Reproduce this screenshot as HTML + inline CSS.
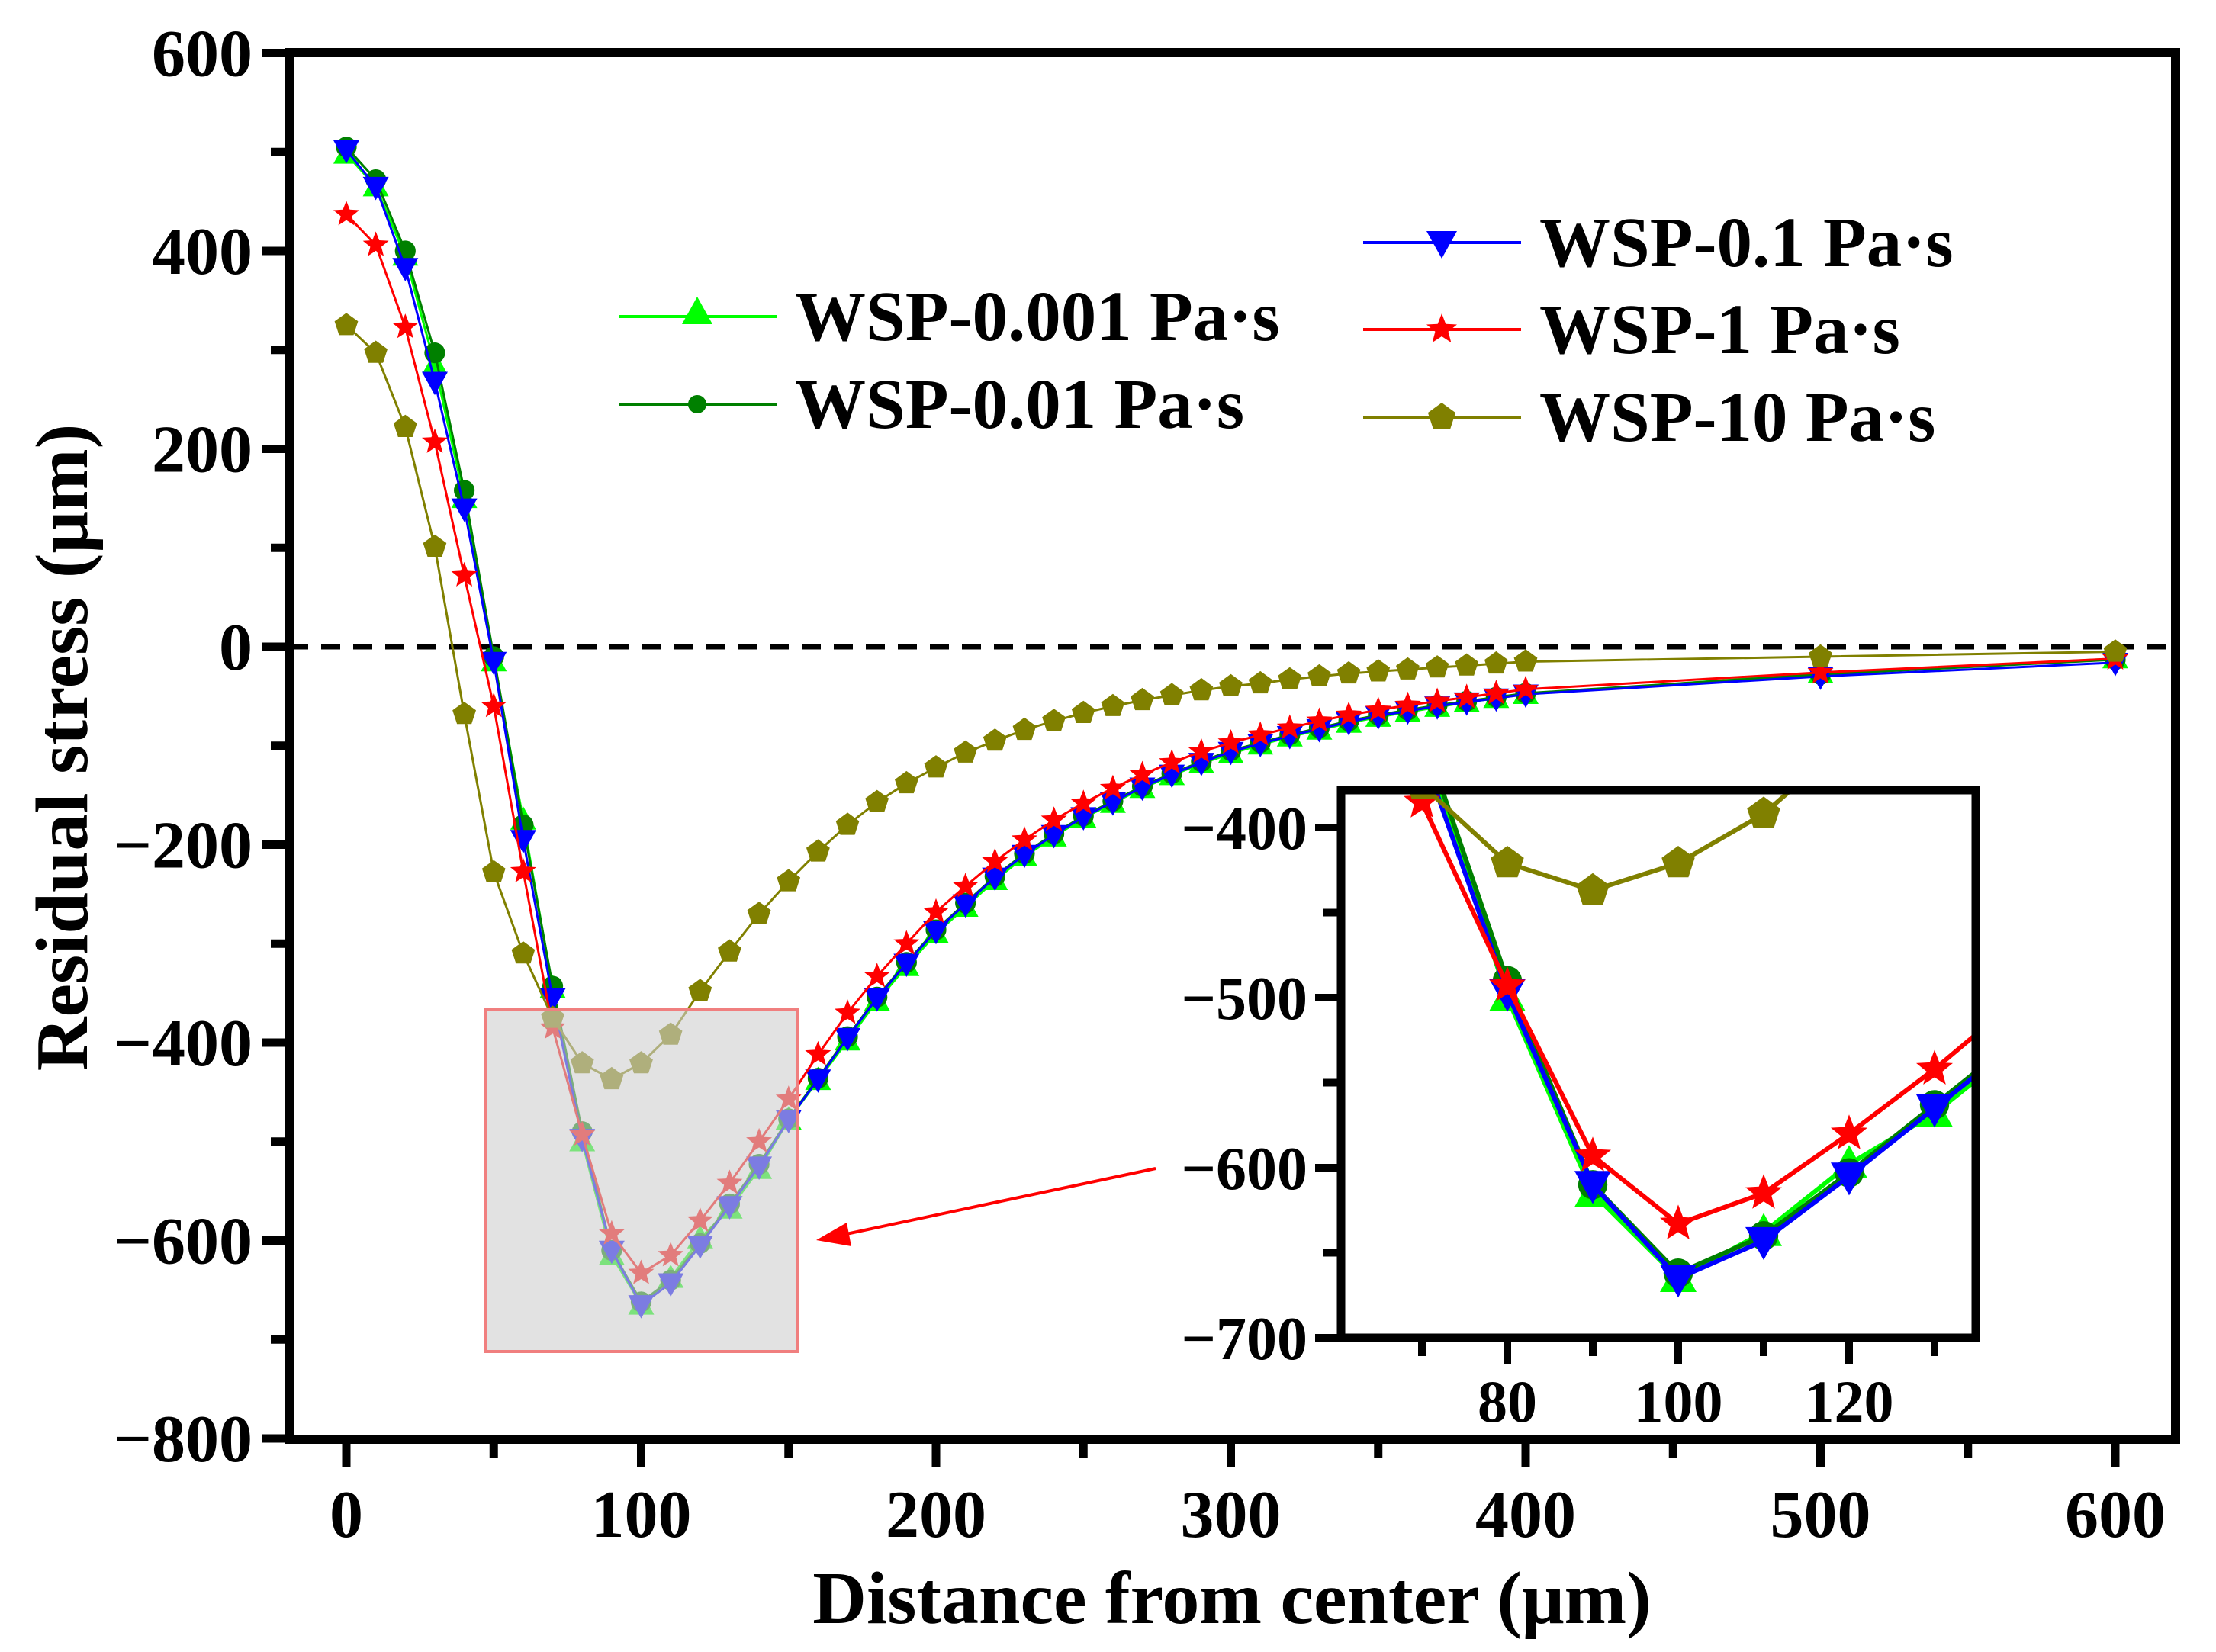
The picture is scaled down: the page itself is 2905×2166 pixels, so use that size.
<!DOCTYPE html>
<html><head><meta charset="utf-8"><style>
html,body{margin:0;padding:0;background:#fff;}
svg{display:block;font-family:"Liberation Serif",serif;font-weight:bold;}
</style></head><body>
<svg id="chart" xmlns="http://www.w3.org/2000/svg" width="2905" height="2166" viewBox="0 0 2905 2166">
<rect width="2905" height="2166" fill="#fff"/>
<g id="main-data"></g>
<g id="main-axes"></g>
<g id="inset"></g>
<g id="legend"></g>
</svg>
<script>
const xs = [0,10,20,30,40,50,60,70,80,90,100,110,120,130,140,150,160,170,180,190,200,210,220,230,240,250,260,270,280,290,300,310,320,330,340,350,360,370,380,390,400,500,600];
const s001 = [498,465,395,285,150,-15,-175,-345,-500,-615,-665,-638,-598,-568,-528,-478,-438,-398,-358,-323,-290,-263,-236,-212,-192,-173,-158,-143,-130,-118,-108,-99,-91,-84,-77,-71,-66,-61,-56,-52,-48,-27,-12];
const s01 = [505,472,400,297,158,-10,-180,-343,-490,-610,-662,-640,-603,-563,-523,-477,-436,-394,-354,-319,-286,-259,-232,-209,-189,-171,-156,-141,-128,-116,-105,-97,-89,-82,-75,-69,-64,-59,-55,-51,-47,-28,-13];
const s1 = [502,465,383,268,140,-15,-195,-355,-497,-610,-665,-643,-605,-565,-525,-478,-437,-395,-355,-320,-287,-260,-233,-210,-190,-172,-157,-142,-129,-117,-106,-98,-90,-83,-76,-70,-65,-60,-56,-52,-48,-30,-16];
const s10 = [437,406,323,207,72,-60,-227,-385,-493,-593,-633,-615,-580,-542,-500,-457,-412,-370,-333,-300,-268,-242,-217,-195,-175,-158,-143,-129,-117,-106,-97,-89,-82,-75,-69,-64,-59,-55,-51,-47,-43,-26,-12];
const s100 = [325,297,222,101,-68,-228,-310,-375,-421,-437,-421,-392,-348,-308,-270,-237,-207,-180,-157,-138,-122,-107,-95,-84,-75,-67,-60,-54,-49,-44,-40,-37,-33,-30,-27,-25,-23,-21,-19,-17,-15,-10,-5];
const seriesNames = ["WSP-0.001 Pa·s","WSP-0.01 Pa·s","WSP-0.1 Pa·s","WSP-1 Pa·s","WSP-10 Pa·s"];
const xTicks = [0,100,200,300,400,500,600];
const yTicks = [600,400,200,0,-200,-400,-600,-800];
const insetXTicks = [80,100,120];
const insetYTicks = [-400,-500,-600,-700];

const NS="http://www.w3.org/2000/svg";
function mk(tag,attrs,parent){const e=document.createElementNS(NS,tag);for(const k in attrs)e.setAttribute(k,attrs[k]);if(parent)parent.appendChild(e);return e;}

const L=379,T=69,R=2852,B=1887;
const X=v=>454+(v)*3.865;
const Y=v=>848-v*1.2975;
const IL=1758,IT=1036,IR=2590,IB=1754;
const IX=v=>2200+(v-100)*11.2;
const IY=v=>1754-(v+700)*2.23;

const styles=[
 {c:"#00ff00",m:"tri"},
 {c:"#008000",m:"circ"},
 {c:"#0000ff",m:"tridown"},
 {c:"#ff0000",m:"star"},
 {c:"#808000",m:"pent"}
];
const data=[s001,s01,s1,s10,s100];

function marker(type,x,y,r,color,parent){
  let e;
  if(type==="circ"){e=mk("circle",{cx:x,cy:y,r:r*0.8,fill:color},parent);}
  else{
    let pts=[];
    if(type==="tri"){pts=[[0,-1.05],[1,0.75],[-1,0.75]];}
    else if(type==="tridown"){pts=[[0,1.05],[1,-0.75],[-1,-0.75]];}
    else if(type==="star"){for(let i=0;i<10;i++){const a=-Math.PI/2+i*Math.PI/5;const rr=i%2?0.45:1.05;pts.push([rr*Math.cos(a),rr*Math.sin(a)]);}}
    else {for(let i=0;i<5;i++){const a=-Math.PI/2+i*2*Math.PI/5;pts.push([0.95*Math.cos(a),0.95*Math.sin(a)]);}}
    e=mk("polygon",{points:pts.map(p=>(x+p[0]*r).toFixed(1)+","+(y+p[1]*r).toFixed(1)).join(" "),fill:color},parent);
  }
  return e;
}

const md=document.getElementById("main-data");
const zl=mk("line",{x1:L,x2:R,y1:Y(0),y2:Y(0),stroke:"#000","stroke-width":7,"stroke-dasharray":"25 17"},md);


const order=[0,1,2,3,4];
order.forEach(si=>{
  const g=mk("g",{},md);
  
  
  const d=data[si];
  mk("polyline",{points:xs.map((x,i)=>X(x).toFixed(1)+","+Y(d[i]).toFixed(1)).join(" "),fill:"none",stroke:styles[si].c,"stroke-width":3},g);
  xs.forEach((x,i)=>{const m=marker(styles[si].m,X(x),Y(d[i]),17,styles[si].c,g);
    
    });
});
const zr=mk("rect",{x:637,y:1324,width:408,height:448,fill:"#cfcfcf","fill-opacity":0.6,stroke:"#f07f7f","stroke-width":4},md);


const ar=mk("g",{},md);


mk("line",{x1:1515,y1:1532,x2:1100,y2:1620,stroke:"#ff0000","stroke-width":4},ar);
mk("polygon",{points:"1070,1626 1110,1603 1116,1634",fill:"#ff0000"},ar);

const ax=document.getElementById("main-axes");
const fr=mk("rect",{x:L,y:T,width:R-L,height:B-T,fill:"none",stroke:"#000","stroke-width":12},ax);


for(let v=0;v<=600;v+=50){
  const major=v%100===0;
  mk("line",{x1:X(v),x2:X(v),y1:B,y2:B+(major?36:24),stroke:"#000","stroke-width":11},ax);
}
xTicks.forEach(v=>{const t=mk("text",{x:X(v),y:B+128,"font-size":88,"text-anchor":"middle"},ax);t.textContent=v;
  
  });
for(let v=-800;v<=600;v+=100){
  const major=v%200===0;
  mk("line",{x1:L,x2:L-(major?36:24),y1:Y(v),y2:Y(v),stroke:"#000","stroke-width":11},ax);
}
yTicks.forEach(v=>{const t=mk("text",{x:L-48,y:Y(v)+30,"font-size":88,"text-anchor":"end"},ax);t.textContent=(v<0?"\u2212"+(-v):v);
  
  });
const xt=mk("text",{x:1615,y:2128,"font-size":98,"text-anchor":"middle"},ax);xt.textContent="Distance from center (\u03bcm)";


const yt=mk("text",{x:0,y:0,"font-size":98,"text-anchor":"middle",transform:"translate(114,980) rotate(-90)"},ax);yt.textContent="Residual stress (\u03bcm)";



const ins=document.getElementById("inset");
mk("rect",{x:IL,y:IT,width:IR-IL,height:IB-IT,fill:"#fff"},ins);
mk("clipPath",{id:"ic"},ins);
mk("rect",{x:IL,y:IT,width:IR-IL,height:IB-IT},document.getElementById("ic"));
const ig=mk("g",{"clip-path":"url(#ic)"},ins);
order.forEach(si=>{
  const g=mk("g",{},ig);
  
  
  const d=data[si];
  mk("polyline",{points:xs.map((x,i)=>IX(x).toFixed(1)+","+IY(d[i]).toFixed(1)).join(" "),fill:"none",stroke:styles[si].c,"stroke-width":6},g);
  xs.forEach((x,i)=>{if(x<60||x>140)return;const m=marker(styles[si].m,IX(x),IY(d[i]),24,styles[si].c,g);
    
    });
});
const ifr=mk("rect",{x:IL,y:IT,width:IR-IL,height:IB-IT,fill:"none",stroke:"#000","stroke-width":11},ins);


for(let v=70;v<=130;v+=10){const major=v%20===0;
  mk("line",{x1:IX(v),x2:IX(v),y1:IB,y2:IB+(major?34:24),stroke:"#000","stroke-width":10},ins);}
insetXTicks.forEach(v=>{const t=mk("text",{x:IX(v),y:IB+110,"font-size":78,"text-anchor":"middle"},ins);t.textContent=v;
  
  });
for(let v=-700;v<=-400;v+=50){const major=v%100===0;
  mk("line",{x1:IL,x2:IL-(major?34:24),y1:IY(v),y2:IY(v),stroke:"#000","stroke-width":10},ins);}
insetYTicks.forEach(v=>{const t=mk("text",{x:IL-44,y:IY(v)+28,"font-size":80,"text-anchor":"end"},ins);t.textContent="\u2212"+(-v);
  
  });

const lg=document.getElementById("legend");
const legPos=[[811,415],[811,530],[1787,318],[1787,432],[1787,547]];
legPos.forEach((p,si)=>{
  const g=mk("g",{},lg);
  
  
  mk("line",{x1:p[0],x2:p[0]+207,y1:p[1],y2:p[1],stroke:styles[si].c,"stroke-width":4},g);
  marker(styles[si].m,p[0]+103,p[1]+(si===0?-5:0),si===1?15:20,styles[si].c,g);
  const t=mk("text",{x:p[0]+231,y:p[1]+31,"font-size":93},g);t.textContent=seriesNames[si];
});
</script>
</body></html>
